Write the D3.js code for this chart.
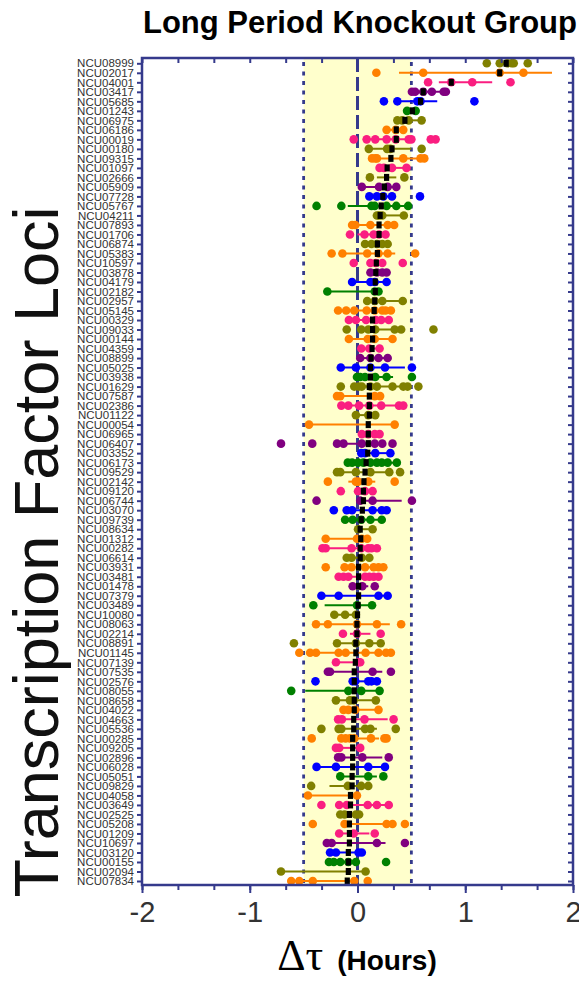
<!DOCTYPE html>
<html>
<head>
<meta charset="utf-8">
<script src="https://cdn.jsdelivr.net/npm/d3@7"></script>
<style>
  body { margin: 0; background: #fff; }
  svg { display: block; font-family: "Liberation Sans", Arial, sans-serif; }
  .tick text { fill: #333; }
</style>
</head>
<body>
<div id="wrapper"></div>
<script>
// loci, top to bottom
const loci = ["NCU08999","NCU02017","NCU04001","NCU03417","NCU05685","NCU01243","NCU06975","NCU06186","NCU00019","NCU00180",
  "NCU09315","NCU01097","NCU02666","NCU05909","NCU07728","NCU05767","NCU04211","NCU07893","NCU01706","NCU06874",
  "NCU05383","NCU10597","NCU03878","NCU04179","NCU02182","NCU02957","NCU05145","NCU00329","NCU09033","NCU00144",
  "NCU04359","NCU08899","NCU05025","NCU03938","NCU01629","NCU07587","NCU02386","NCU01122","NCU00054","NCU06965",
  "NCU06407","NCU03352","NCU06173","NCU09529","NCU02142","NCU09120","NCU06744","NCU03070","NCU09739","NCU08634",
  "NCU01312","NCU00282","NCU06614","NCU03931","NCU03481","NCU01478","NCU07379","NCU03489","NCU10080","NCU08063",
  "NCU02214","NCU08891","NCU01145","NCU07139","NCU07535","NCU02576","NCU08055","NCU08658","NCU04022","NCU04663",
  "NCU05536","NCU00285","NCU09205","NCU02896","NCU06028","NCU05051","NCU09829","NCU04058","NCU03649","NCU02525",
  "NCU05208","NCU01209","NCU10697","NCU03120","NCU00155","NCU02094","NCU07834"]

// experiment group of each locus
const groups = ["A","B","C","D","E","F","A","B","C","A","B","C","A","D","E","F","A","B","C","A",
  "B","C","D","E","F","A","B","C","A","B","C","D","E","F","A","B","C","A","B","C",
  "D","E","F","A","B","C","D","E","F","A","B","C","A","B","C","D","E","F","A","B",
  "C","A","B","C","D","E","F","A","B","C","A","B","C","D","E","F","A","B","C","A",
  "B","C","D","E","F","A","B"]

// mean period change (hours)
const means = [1.38,1.32,0.87,0.61,0.585,0.51,0.44,0.36,0.36,0.32,
  0.31,0.275,0.27,0.25,0.235,0.22,0.21,0.2,0.2,0.185,
  0.185,0.175,0.17,0.165,0.165,0.16,0.155,0.14,0.14,0.14,
  0.135,0.125,0.12,0.12,0.11,0.11,0.11,0.11,0.1,0.1,
  0.1,0.095,0.08,0.07,0.06,0.055,0.055,0.045,0.035,0.025,
  0.03,0.025,0.025,0.01,0.01,0.01,0.01,0.005,0.0,-0.005,
  -0.005,-0.015,-0.015,-0.02,-0.03,-0.03,-0.03,-0.03,-0.03,-0.035,
  -0.035,-0.045,-0.045,-0.045,-0.045,-0.05,-0.05,-0.065,-0.065,-0.075,
  -0.075,-0.075,-0.075,-0.085,-0.085,-0.085,-0.095]

// error bar ends
const barLow = [1.32,0.385,0.755,0.505,0.37,0.46,0.37,0.27,0.085,0.105,
  0.135,0.205,0.18,0.04,0.11,-0.09,0.16,-0.05,0.0,0.07,
  -0.14,0.1,0.12,-0.05,-0.28,0.09,-0.18,-0.08,0.03,-0.08,
  0.035,0.025,-0.155,-0.005,-0.03,-0.19,-0.15,-0.015,-0.45,0.04,
  -0.13,0.035,-0.09,-0.19,-0.085,-0.03,0.025,-0.1,-0.115,0.005,
  -0.295,-0.3,-0.1,-0.12,-0.175,-0.045,-0.335,-0.305,-0.215,-0.385,
  -0.07,-0.19,-0.44,-0.2,-0.275,-0.045,-0.485,-0.2,-0.13,-0.18,
  -0.175,-0.15,-0.2,-0.18,-0.38,-0.16,-0.26,-0.46,-0.17,-0.16,
  -0.12,-0.17,-0.285,-0.255,-0.265,-0.71,-0.615]
const barHigh = [1.45,1.805,1.25,0.82,0.74,0.54,0.6,0.425,0.5,0.5,
  0.62,0.455,0.36,0.38,0.33,0.47,0.43,0.36,0.26,0.28,
  0.35,0.25,0.27,0.27,0.2,0.42,0.31,0.29,0.38,0.32,
  0.2,0.28,0.44,0.33,0.42,0.2,0.4,0.165,0.345,0.2,
  0.22,0.3,0.37,0.3,0.165,0.14,0.41,0.27,0.225,0.14,
  0.05,0.18,0.11,0.24,0.2,0.1,0.28,0.135,0.01,0.3,
  0.12,0.215,0.31,0.025,0.23,0.18,0.205,0.17,0.2,0.28,
  0.18,0.2,0.025,0.23,0.26,0.18,0.1,-0.005,0.29,0.015,
  0.33,0.11,0.26,0.04,-0.015,0.075,0.0]

// individual replicate values
const replicates = [
  [1.2,1.32,1.39,1.43,1.45,1.58],
  [0.175,0.61,1.32,1.54],
  [0.655,0.87,1.065,1.42],
  [0.505,0.535,0.61,0.69,0.8,0.82],
  [0.245,0.37,0.555,0.585,1.085],
  [0.46,0.54],
  [0.37,0.415,0.475,0.595],
  [0.27,0.355,0.425],
  [-0.035,0.085,0.165,0.27,0.355,0.475,0.5,0.68,0.725],
  [0.105,0.275,0.305,0.595],
  [0.135,0.165,0.18,0.425,0.585,0.62],
  [0.205,0.245,0.32,0.455],
  [0.115,0.435],
  [0.04,0.2,0.28,0.36],
  [0.11,0.18,0.24,0.32,0.58],
  [-0.38,-0.15,0.13,0.16,0.27,0.36,0.47],
  [0.18,0.2,0.23,0.43],
  [-0.05,-0.02,0.12,0.28,0.34],
  [-0.07,0.065,0.15,0.2,0.26],
  [0.07,0.13,0.18,0.23,0.28],
  [-0.24,-0.14,0.09,0.195,0.28,0.535],
  [-0.035,0.12,0.17,0.23,0.42],
  [0.12,0.18,0.23,0.27],
  [-0.05,0.12,0.16,0.27],
  [-0.28,0.16,0.195],
  [0.09,0.16,0.23,0.42],
  [-0.18,-0.105,-0.03,0.085,0.16,0.23,0.26,0.31],
  [-0.08,-0.015,0.08,0.17,0.22,0.29],
  [-0.1,0.035,0.1,0.165,0.345,0.405,0.705],
  [-0.08,0.095,0.16,0.325],
  [0.035,0.11,0.205],
  [0.025,0.12,0.195,0.28],
  [-0.155,-0.015,0.12,0.255,0.505],
  [-0.005,0.025,0.07,0.165,0.27,0.505],
  [-0.155,-0.03,0.01,0.04,0.12,0.18,0.325,0.425,0.465,0.565],
  [-0.19,-0.16,0.16,0.21],
  [-0.15,-0.085,0.015,0.11,0.22,0.385,0.425],
  [-0.015,0.1,0.165],
  [-0.45,0.345],
  [0.04,0.1,0.16,0.205],
  [-0.71,-0.42,-0.19,-0.13,0.04,0.16,0.23,0.325],
  [0.035,0.07,0.165,0.305],
  [-0.09,-0.05,0.005,0.055,0.12,0.18,0.225,0.28,0.365],
  [-0.19,-0.16,-0.015,0.12,0.295,0.395],
  [-0.275,-0.015,0.005,0.1,0.345],
  [-0.155,0.005,0.07,0.14],
  [-0.38,0.025,0.14,0.505],
  [-0.22,-0.1,-0.05,0.14,0.225,0.27],
  [-0.115,-0.045,0.035,0.12,0.225],
  [0.005,0.14],
  [-0.295,-0.005,0.04,0.09],
  [-0.325,-0.295,-0.055,0.035,0.1,0.13,0.18],
  [-0.1,-0.055,0.04,0.11],
  [-0.295,-0.12,-0.055,0.07,0.15,0.195,0.24],
  [-0.175,-0.13,-0.085,0.07,0.11,0.15,0.195],
  [-0.045,0.045,0.16],
  [-0.335,-0.175,0.195,0.28],
  [-0.41,-0.005,0.135],
  [-0.215,-0.115,-0.015],
  [-0.385,-0.275,-0.005,0.18,0.405],
  [-0.135,-0.005,0.215],
  [-0.59,-0.19,-0.015,0.11,0.215],
  [-0.54,-0.44,-0.385,-0.175,-0.11,0.075,0.195,0.265,0.31],
  [-0.2,0.01,0.025],
  [-0.275,-0.255,0.14,0.31],
  [-0.39,-0.045,-0.02,0.1,0.13,0.18],
  [-0.615,-0.085,0.035,0.205],
  [-0.2,-0.07,-0.035,0.17],
  [-0.13,-0.085,-0.02,0.195],
  [-0.18,-0.145,0.065,0.335],
  [-0.335,-0.175,-0.15,0.07,0.12,0.355],
  [-0.425,-0.15,-0.11,-0.07,-0.03,0.125,0.25,0.27],
  [-0.2,-0.17,0.025],
  [-0.18,-0.15,0.045,0.29],
  [-0.38,-0.2,0.1,0.255],
  [-0.16,0.1,0.24],
  [-0.43,-0.09,0.035,0.1],
  [-0.46,-0.005],
  [-0.335,-0.17,-0.1,0.095,0.18,0.29],
  [-0.16,-0.12,-0.015,0.015],
  [-0.415,-0.12,0.27,0.325,0.44],
  [-0.17,-0.035,0.16],
  [-0.285,-0.24,0.18,0.44],
  [-0.255,-0.2,0.01,0.04],
  [-0.265,-0.22,-0.16,-0.085,-0.015,0.265],
  [-0.71,0.075],
  [-0.615,-0.54,-0.415,-0.03,0.095]
]

const xTicks = [-2, -1, 0, 1, 2]
const bandEdges = [-0.5, 0.5]

// chart dimensions
const width = 579
const height = 981
const frame = { left: 142, right: 573, top: 58, bottom: 885 }
const axisColor = "#353a8c"

const rows = loci.map((d, i) => ({
  locus: d,
  group: groups[i],
  mean: means[i],
  low: barLow[i],
  high: barHigh[i],
  values: replicates[i]
}))

const svg = d3.select("#wrapper")
  .append("svg")
    .attr("width", width)
    .attr("height", height)

// scales
const xScale = d3.scaleLinear()
  .domain([-2, 2])
  .range([frame.left, frame.right])

const yScale = d3.scalePoint()
  .domain(loci)
  .range([63.3, 881])

const colorScale = d3.scaleOrdinal()
  .domain(["A", "B", "C", "D", "E", "F"])
  .range(["#808000", "#ff8000", "#fa1e80", "#800080", "#0000ff", "#008000"])

// yellow band +/- 0.5 h
svg.append("rect")
  .attr("x", xScale(bandEdges[0]))
  .attr("y", frame.top)
  .attr("width", xScale(bandEdges[1]) - xScale(bandEdges[0]))
  .attr("height", frame.bottom - frame.top)
  .attr("fill", "#ffffcc")

// reference lines
svg.selectAll(".edge-line")
  .data(bandEdges)
  .join("line")
    .attr("class", "edge-line")
    .attr("x1", d => xScale(d))
    .attr("x2", d => xScale(d))
    .attr("y1", frame.top + 4)
    .attr("y2", frame.bottom)
    .attr("stroke", axisColor)
    .attr("stroke-width", 2.8)
    .attr("stroke-dasharray", "4 5.5")

svg.append("line")
  .attr("x1", xScale(0))
  .attr("x2", xScale(0))
  .attr("y1", frame.top)
  .attr("y2", frame.bottom)
  .attr("stroke", axisColor)
  .attr("stroke-width", 3)
  .attr("stroke-dasharray", "14 5")

// draw the data
const rowGroups = svg.append("g")
  .selectAll("g")
  .data(rows)
  .join("g")
    .attr("transform", d => `translate(0,${yScale(d.locus)})`)

rowGroups.append("line")
  .attr("x1", d => xScale(d.low))
  .attr("x2", d => xScale(d.high))
  .attr("stroke", d => colorScale(d.group))
  .attr("stroke-width", 2)

rowGroups.selectAll("circle")
  .data(d => d.values.map(v => ({ v, group: d.group })))
  .join("circle")
    .attr("cx", d => xScale(d.v))
    .attr("r", 4.3)
    .attr("fill", d => colorScale(d.group))

rowGroups.append("rect")
  .attr("x", d => xScale(d.mean) - 2.6)
  .attr("y", -3.5)
  .attr("width", 5.2)
  .attr("height", 7)
  .attr("fill", "#000")

// axes
const minorTicks = d3.range(-6, 7).map(d => d / 3)

const bottomMinor = svg.append("g")
  .attr("transform", `translate(0,${frame.bottom})`)
  .call(d3.axisBottom(xScale).tickValues(minorTicks).tickSize(5).tickFormat(""))

const bottomMajor = svg.append("g")
  .attr("transform", `translate(0,${frame.bottom})`)
  .call(d3.axisBottom(xScale).tickValues(xTicks).tickSize(8).tickPadding(8).tickFormat(d3.format("d")))

bottomMajor.selectAll("text")
  .attr("font-size", 29)
  .attr("font-family", "'Liberation Sans', Arial, sans-serif")
  .text(d => d < 0 ? "-" + Math.abs(d) : d)

const topAxis = svg.append("g")
  .attr("transform", `translate(0,${frame.top})`)
  .call(d3.axisTop(xScale).tickValues(minorTicks).tickSize(-5).tickFormat(""))

const leftAxis = svg.append("g")
  .attr("transform", `translate(${frame.left},0)`)
  .call(d3.axisLeft(yScale).tickSize(5).tickPadding(3))

leftAxis.selectAll("text")
  .attr("font-size", 11.5)
  .attr("font-family", "'Liberation Sans', Arial, sans-serif")

const rightAxis = svg.append("g")
  .attr("transform", `translate(${frame.right},0)`)
  .call(d3.axisRight(yScale).tickSize(-5).tickFormat(""))

svg.selectAll(".domain").remove()
svg.selectAll(".tick line")
  .attr("stroke", axisColor)
  .attr("stroke-width", 2)

// frame
svg.append("rect")
  .attr("x", frame.left)
  .attr("y", frame.top)
  .attr("width", frame.right - frame.left)
  .attr("height", frame.bottom - frame.top)
  .attr("fill", "none")
  .attr("stroke", axisColor)
  .attr("stroke-width", 2.5)

// titles
svg.append("text")
  .attr("x", 360)
  .attr("y", 33)
  .attr("text-anchor", "middle")
  .attr("font-size", 31)
  .attr("font-weight", "bold")
  .attr("fill", "#000")
  .text("Long Period Knockout Group")

svg.append("text")
  .attr("transform", "translate(58,552) rotate(-90)")
  .attr("text-anchor", "middle")
  .attr("font-size", 63)
  .attr("fill", "#111")
  .text("Transcription Factor Loci")

const xLabel = svg.append("text")
  .attr("x", 357)
  .attr("y", 970)
  .attr("text-anchor", "middle")
  .attr("fill", "#000")

xLabel.append("tspan")
  .attr("font-family", "'Liberation Serif', 'DejaVu Serif', serif")
  .attr("font-size", 44)
  .text("Δτ")

xLabel.append("tspan")
  .attr("font-size", 28)
  .attr("font-weight", "bold")
  .attr("dx", 14)
  .text("(Hours)")
</script>
</body>
</html>
